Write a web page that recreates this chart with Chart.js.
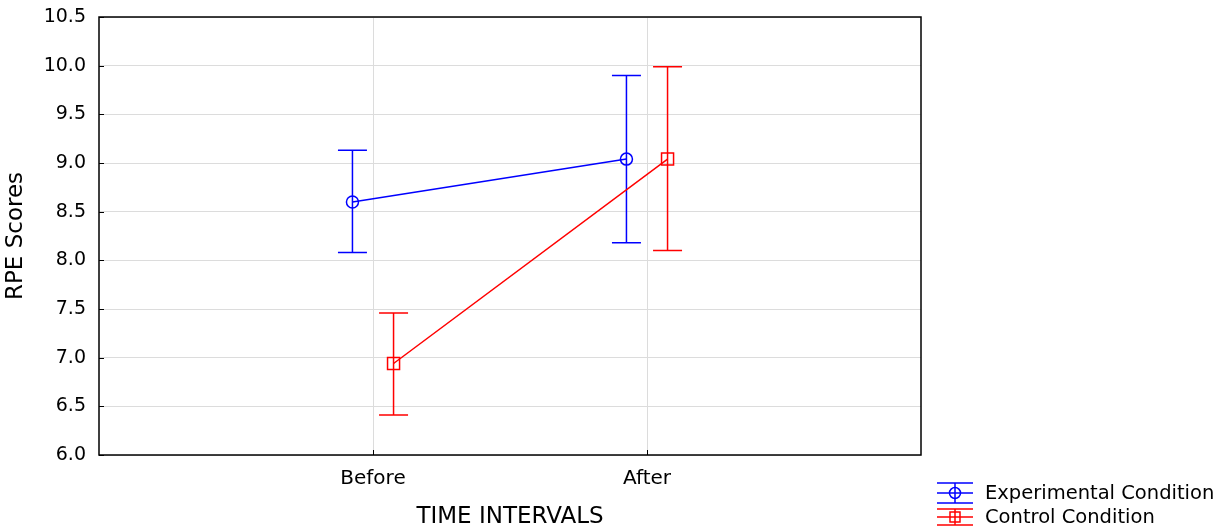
<!DOCTYPE html>
<html>
<head>
<meta charset="utf-8">
<title>RPE Scores</title>
<script src="https://cdn.jsdelivr.net/npm/chart.js@4/dist/chart.umd.min.js"></script>
<style>
    html, body { margin: 0; padding: 0; background: #fff; }
    #wrap { width: 1231px; height: 531px; }
</style>
</head>
<body>
<div id="wrap"><canvas id="rpe-chart" width="1231" height="531"></canvas></div>
<script>
"use strict";

var CATEGORIES = ['Before', 'After'];
var CATEGORY_POS = [1, 2];
var Y_TICKS = [6.0, 6.5, 7.0, 7.5, 8.0, 8.5, 9.0, 9.5, 10.0, 10.5];

var EXP_LABEL = 'Experimental Condition';
var EXP_MEAN = [8.60, 9.04];
var EXP_LOW = [8.08, 8.18];
var EXP_HIGH = [9.13, 9.90];

var CTRL_LABEL = 'Control Condition';
var CTRL_MEAN = [6.94, 9.04];
var CTRL_LOW = [6.41, 8.10];
var CTRL_HIGH = [7.46, 9.99];

var FONT = 'DejaVu Sans';
var BLUE = '#0000ff';
var RED = '#ff0000';

function toPoints(mean, low, high, shift) {
    return mean.map(function(v, i) {
        return { x: CATEGORY_POS[i] + shift, y: v, low: low[i], high: high[i] };
    });
}

// whiskers with caps for every point that carries low/high
var errorBars = {
    id: 'errorBars',
    beforeDatasetsDraw: function(chart) {
        var ctx = chart.ctx;
        var ys = chart.scales.y;
        var cap = 14.5;
        chart.data.datasets.forEach(function(ds, di) {
            var meta = chart.getDatasetMeta(di);
            ctx.save();
            ctx.strokeStyle = ds.borderColor;
            ctx.lineWidth = 1.5;
            meta.data.forEach(function(pt, i) {
                var d = ds.data[i];
                var top = ys.getPixelForValue(d.high);
                var bot = ys.getPixelForValue(d.low);
                ctx.beginPath();
                ctx.moveTo(pt.x, top);
                ctx.lineTo(pt.x, bot);
                ctx.moveTo(pt.x - cap, top);
                ctx.lineTo(pt.x + cap, top);
                ctx.moveTo(pt.x - cap, bot);
                ctx.lineTo(pt.x + cap, bot);
                ctx.stroke();
            });
            ctx.restore();
        });
    }
};

// closed frame round the plot with short inward ticks
var frame = {
    id: 'frame',
    afterDatasetsDraw: function(chart) {
        var ctx = chart.ctx;
        var a = chart.chartArea;
        ctx.save();
        ctx.strokeStyle = '#000';
        ctx.lineWidth = 1.5;
        ctx.strokeRect(a.left, a.top, a.right - a.left, a.bottom - a.top);
        ctx.lineWidth = 1;
        ctx.beginPath();
        chart.scales.y.ticks.forEach(function(t) {
            var y = Math.round(chart.scales.y.getPixelForValue(t.value)) + 0.5;
            ctx.moveTo(a.left, y);
            ctx.lineTo(a.left + 5, y);
        });
        chart.scales.x.ticks.forEach(function(t) {
            var x = Math.round(chart.scales.x.getPixelForValue(t.value)) + 0.5;
            ctx.moveTo(x, a.bottom);
            ctx.lineTo(x, a.bottom - 5);
        });
        ctx.stroke();
        ctx.restore();
    }
};

// legend in the lower right corner, each key is a small error bar
var sideLegend = {
    id: 'sideLegend',
    afterDraw: function(chart) {
        var ctx = chart.ctx;
        var x0 = 937, x1 = 973, cx = 955;
        var rows = [
            { y: 493, half: 10, ds: chart.data.datasets[0] },
            { y: 517, half: 8, ds: chart.data.datasets[1] }
        ];
        ctx.save();
        rows.forEach(function(r) {
            ctx.strokeStyle = r.ds.borderColor;
            ctx.lineWidth = 1.5;
            ctx.beginPath();
            [r.y - r.half, r.y, r.y + r.half].forEach(function(y) {
                ctx.moveTo(x0, y);
                ctx.lineTo(x1, y);
            });
            ctx.moveTo(cx, r.y - r.half);
            ctx.lineTo(cx, r.y + r.half);
            ctx.stroke();
            ctx.beginPath();
            if (r.ds.pointStyle === 'circle') {
                ctx.arc(cx, r.y, 5.5, 0, Math.PI * 2);
            } else {
                ctx.rect(cx - 5, r.y - 5, 10, 10);
            }
            ctx.stroke();
            ctx.fillStyle = '#000';
            ctx.font = '19.5px "' + FONT + '"';
            ctx.textBaseline = 'middle';
            ctx.textAlign = 'left';
            ctx.fillText(r.ds.label, 985, r.y + 1);
        });
        ctx.restore();
    }
};

var chart = new Chart(document.getElementById('rpe-chart'), {
    type: 'line',
    data: {
        datasets: [{
            label: EXP_LABEL,
            data: toPoints(EXP_MEAN, EXP_LOW, EXP_HIGH, -0.075),
            borderColor: BLUE,
            backgroundColor: 'transparent',
            borderWidth: 1.5,
            pointStyle: 'circle',
            pointRadius: 6,
            pointBorderWidth: 1.5,
            pointBackgroundColor: 'transparent',
            tension: 0
        }, {
            label: CTRL_LABEL,
            data: toPoints(CTRL_MEAN, CTRL_LOW, CTRL_HIGH, 0.075),
            borderColor: RED,
            backgroundColor: 'transparent',
            borderWidth: 1.5,
            pointStyle: 'rect',
            pointRadius: 8.5,
            pointBorderWidth: 1.5,
            pointBackgroundColor: 'transparent',
            tension: 0
        }]
    },
    options: {
        responsive: false,
        animation: false,
        layout: { padding: { top: 17, right: 310, bottom: 0, left: 0 } },
        plugins: {
            legend: { display: false },
            tooltip: { enabled: false }
        },
        scales: {
            x: {
                type: 'linear',
                min: 0,
                max: 3,
                afterBuildTicks: function(scale) {
                    scale.ticks = CATEGORY_POS.map(function(v) { return { value: v }; });
                },
                afterFit: function(scale) {
                    scale.height = 76;
                    scale.paddingLeft = 0;
                    scale.paddingRight = 0;
                },
                grid: { color: '#dcdcdc', lineWidth: 1, drawTicks: false },
                border: { display: false },
                ticks: {
                    padding: 12,
                    color: '#000',
                    font: { family: FONT, size: 20 },
                    maxRotation: 0,
                    callback: function(v) {
                        return CATEGORIES[CATEGORY_POS.indexOf(v)];
                    }
                },
                title: {
                    display: true,
                    text: 'TIME INTERVALS',
                    color: '#000',
                    font: { family: FONT, size: 23 },
                    padding: { top: 0, bottom: 0 }
                }
            },
            y: {
                min: 6,
                max: 10.5,
                afterBuildTicks: function(scale) {
                    scale.ticks = Y_TICKS.map(function(v) { return { value: v }; });
                },
                afterFit: function(scale) {
                    // label overhang is already covered by the layout padding
                    scale.width = 99;
                    scale.paddingTop = 0;
                    scale.paddingBottom = 0;
                },
                grid: { color: '#dcdcdc', lineWidth: 1, drawTicks: false },
                border: { display: false },
                ticks: {
                    padding: 13,
                    color: '#000',
                    font: { family: FONT, size: 19 },
                    callback: function(v) { return v.toFixed(1); }
                },
                title: {
                    display: true,
                    text: 'RPE Scores',
                    color: '#000',
                    font: { family: FONT, size: 23 },
                    padding: { top: 2, bottom: 0 }
                }
            }
        }
    },
    plugins: [errorBars, frame, sideLegend]
});
</script>
</body>
</html>
